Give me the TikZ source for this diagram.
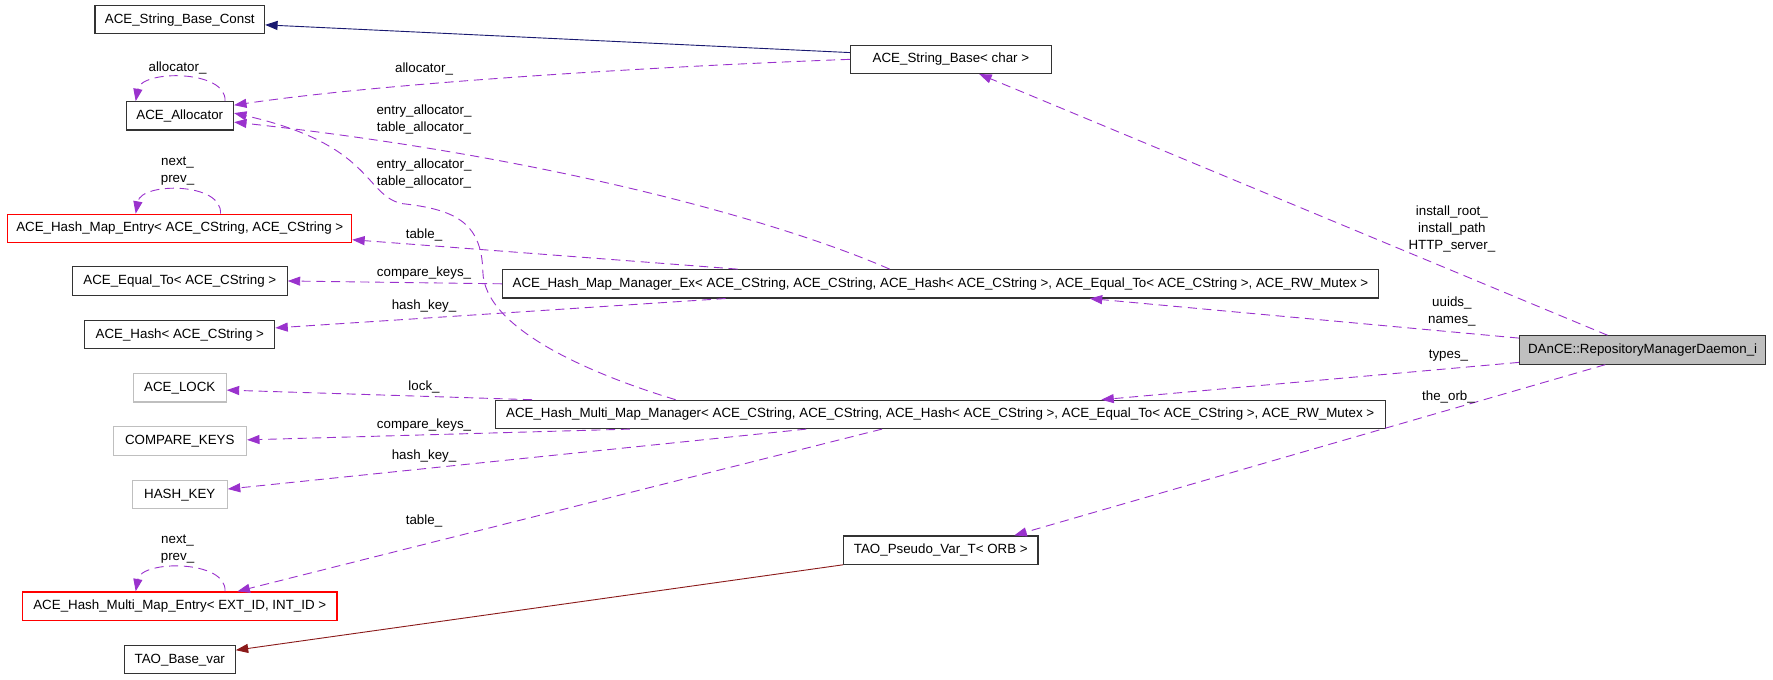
\documentclass[tikz,border=0pt]{standalone}
\usepackage{fontspec}
\setmainfont{Liberation Sans}
\usetikzlibrary{arrows.meta}
\definecolor{memb}{HTML}{9A32CD}
\definecolor{navy}{HTML}{191970}
\definecolor{brick}{HTML}{8B1A1A}
\definecolor{ghost}{HTML}{BFBFBF}
\begin{document}
\begin{tikzpicture}[x=1pt,y=-1pt,
  cls/.style={draw=black!80,line width=1pt,minimum height=25pt,inner sep=0pt,font=\fontsize{11.8}{14}\selectfont},
  bad/.style={cls,draw=red},
  nodoc/.style={cls,draw=ghost},
  lbl/.style={inner sep=0pt,align=center,font=\fontsize{11.8}{15}\selectfont},
  memb/.style={draw=memb,line width=0.8pt,dash pattern=on 8pt off 5pt,-{Triangle[length=11pt,width=8pt,fill=memb]}},
  base/.style={line width=0.8pt,-{Triangle[length=11pt,width=8pt]}}]

    \useasboundingbox (0,0) rectangle (1568,601);

    \node[cls,minimum width=150pt] (strconst) at (159,17.5) {ACE\_String\_Base\_Const};
    \node[cls,minimum width=178pt] (strbase) at (841,52.5) {ACE\_String\_Base< char >};
    \node[cls,minimum width=95pt] (alloc) at (159,102.5) {ACE\_Allocator};
    \node[bad,minimum width=304pt] (hme) at (159,202) {ACE\_Hash\_Map\_Entry< ACE\_CString, ACE\_CString >};
    \node[cls,minimum width=190pt] (equalto) at (159,248.5) {ACE\_Equal\_To< ACE\_CString >};
    \node[cls,minimum width=168pt] (hash) at (159,296) {ACE\_Hash< ACE\_CString >};
    \node[cls,minimum width=775pt] (mgrex) at (831.75,251) {ACE\_Hash\_Map\_Manager\_Ex< ACE\_CString, ACE\_CString, ACE\_Hash< ACE\_CString >, ACE\_Equal\_To< ACE\_CString >, ACE\_RW\_Mutex >};
    \node[nodoc,minimum width=82pt] (lock) at (159,343) {ACE\_LOCK};
    \node[nodoc,minimum width=118pt] (cmpkeys) at (159,390) {COMPARE\_KEYS};
    \node[nodoc,minimum width=84pt] (hashkey) at (159,437.5) {HASH\_KEY};
    \node[cls,minimum width=787pt] (mmm) at (831.5,366.5) {ACE\_Hash\_Multi\_Map\_Manager< ACE\_CString, ACE\_CString, ACE\_Hash< ACE\_CString >, ACE\_Equal\_To< ACE\_CString >, ACE\_RW\_Mutex >};
    \node[bad,minimum width=278pt] (hmme) at (159,536) {ACE\_Hash\_Multi\_Map\_Entry< EXT\_ID, INT\_ID >};
    \node[cls,minimum width=172pt] (pseudovar) at (832,486.5) {TAO\_Pseudo\_Var\_T< ORB >};
    \node[cls,minimum width=98pt] (basevar) at (159,583.5) {TAO\_Base\_var};
    \node[cls,fill=ghost,minimum width=218pt] (daemon) at (1452.7,309.5) {DAnCE::RepositoryManagerDaemon\_i};

    \draw[base,navy] ([yshift=6pt]strbase.west) -- ([yshift=-4.5pt]strconst.east);
    \draw[base,brick] (pseudovar.south west) -- ([yshift=8.5pt]basevar.east);

    \draw[memb] ([xshift=40pt]alloc.north) .. controls +(2,-28) and +(5,-28) .. ([xshift=-39pt]alloc.north);
    \draw[memb] ([xshift=36pt]hme.north) .. controls +(2,-28) and +(5,-28) .. ([xshift=-39pt]hme.north);
    \draw[memb] ([xshift=40pt]hmme.north) .. controls +(2,-28) and +(5,-28) .. ([xshift=-39pt]hmme.north);
    \draw[memb] (strbase.west) .. controls (600,58) and (350,72) .. ([yshift=9.5pt]alloc.east);
    \draw[memb] ([xshift=-45pt]mgrex.north) .. controls (700,200) and (500,140) .. ([yshift=-5.5pt]alloc.east);
    \draw[memb] ([xshift=-234pt]mmm.north) .. controls (520,330) and (428,290) .. (427,240)
        .. controls (426,195) and (400,185) .. (355,180) .. controls (322,172) and (330,128) .. ([yshift=2.5pt]alloc.east);
    \draw[memb] ([xshift=-179.5pt]mgrex.north) -- ([yshift=-10pt]hme.east);
    \draw[memb] (mgrex.west) -- (equalto.east);
    \draw[memb] ([xshift=-190pt]mgrex.south) -- ([yshift=6pt]hash.east);
    \draw[memb] ([xshift=-361pt]mmm.north) -- ([yshift=-2pt]lock.east);
    \draw[memb] ([xshift=-274.5pt]mmm.south) -- ([yshift=1pt]cmpkeys.east);
    \draw[memb] ([xshift=-118.5pt]mmm.south) -- ([yshift=5pt]hashkey.east);
    \draw[memb] ([xshift=-51.5pt]mmm.south) -- ([xshift=51pt]hmme.north);
    \draw[memb] ([xshift=-31pt]daemon.north) -- ([xshift=25pt]strbase.south);
    \draw[memb] ([yshift=10.5pt]daemon.west) -- ([xshift=132pt]mgrex.south);
    \draw[memb] ([yshift=-11pt]daemon.west) -- ([xshift=142.5pt]mmm.north);
    \draw[memb] ([xshift=-33pt]daemon.south) -- ([xshift=65pt]pseudovar.north);

    \node[lbl] (l1) at (157,60.5) {allocator\_};
    \node[lbl] (l2) at (375,61) {allocator\_};
    \node[lbl] (l3) at (375,105.5) {entry\_allocator\_\\table\_allocator\_};
    \node[lbl] (l4) at (375,153.5) {entry\_allocator\_\\table\_allocator\_};
    \node[lbl] (l5) at (157,151.5) {next\_\\prev\_};
    \node[lbl] (l6) at (375,208) {table\_};
    \node[lbl] (l7) at (375,241.5) {compare\_keys\_};
    \node[lbl] (l8) at (375,271) {hash\_key\_};
    \node[lbl] (l9) at (375,342) {lock\_};
    \node[lbl] (l10) at (375,376) {compare\_keys\_};
    \node[lbl] (l11) at (375,403) {hash\_key\_};
    \node[lbl] (l12) at (375,460.5) {table\_};
    \node[lbl] (l13) at (157,486) {next\_\\prev\_};
    \node[lbl] (l14) at (1284,202.5) {install\_root\_\\install\_path\\HTTP\_server\_};
    \node[lbl] (l15) at (1284,275.5) {uuids\_\\names\_};
    \node[lbl] (l16) at (1281,314.5) {types\_};
    \node[lbl] (l17) at (1281,351) {the\_orb\_};
\end{tikzpicture}
\end{document}
